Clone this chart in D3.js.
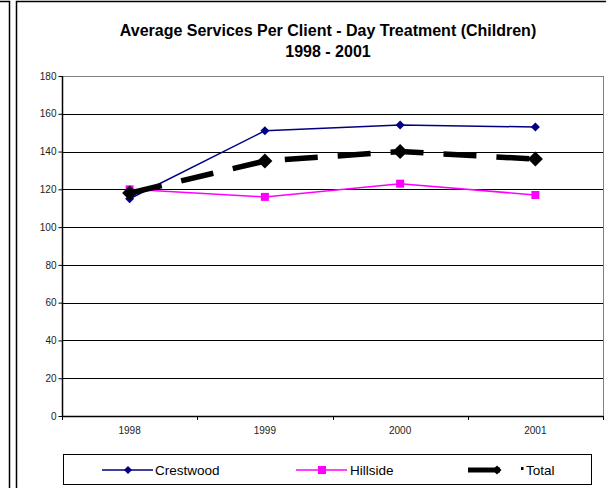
<!DOCTYPE html>
<html><head><meta charset="utf-8">
<script src="https://cdn.jsdelivr.net/npm/d3@7"></script>
<style>body{margin:0;background:#fff}svg{display:block;font-family:Arial,"Liberation Sans",sans-serif}</style>
</head><body><svg id="c" width="606" height="488"></svg>
<script>
const categories = ["1998","1999","2000","2001"];
const crestwood = [115, 151, 154, 153];
const hillside = [120, 116, 123, 117];
const total = [118, 135, 140, 136];
const yTicks = [0,20,40,60,80,100,120,140,160,180];
const seriesNames = ["Crestwood","Hillside","Total"];

const svg = d3.select("#c");
// frames
svg.append("path").attr("d","M0,1.5H9.5V488").attr("fill","none").attr("stroke","#000").attr("stroke-width",1.5);
svg.append("path").attr("d","M16.5,488V1.5H606").attr("fill","none").attr("stroke","#000").attr("stroke-width",1.5);

// title
svg.append("text").attr("x",328).attr("y",36).attr("text-anchor","middle").attr("font-size",16).attr("font-weight","bold").text("Average Services Per Client - Day Treatment (Children)");
svg.append("text").attr("x",328).attr("y",57).attr("text-anchor","middle").attr("font-size",16).attr("font-weight","bold").text("1998 - 2001");

const L=62, R=603, T=76, B=416;
const x = d3.scaleBand().domain(categories).range([L,R]);
const y = d3.scaleLinear().domain([0,180]).range([B,T]);
const cx = d => x(d)+x.bandwidth()/2;

// gridlines
svg.append("g").selectAll("line").data(yTicks.filter(v=>v>0)).join("line")
  .attr("x1",L).attr("x2",R).attr("y1",d=>Math.round(y(d))+0.5).attr("y2",d=>Math.round(y(d))+0.5)
  .attr("stroke",(d)=>d===180?"#808080":"#000").attr("stroke-width",1);
// right border
svg.append("line").attr("x1",R+0.5).attr("x2",R+0.5).attr("y1",T).attr("y2",B).attr("stroke","#808080");

// y axis
const ya = svg.append("g").attr("transform",`translate(${L+0.5},0)`)
  .call(d3.axisLeft(y).tickValues(yTicks).tickSize(4).tickPadding(2));
ya.select(".domain").attr("stroke","#000").attr("stroke-width",1.5).attr("d",`M0,${T}V${B}`);
ya.selectAll(".tick line").attr("stroke","#000");
ya.selectAll(".tick text").attr("font-size",10).attr("fill","#222").attr("font-family","Arial,'Liberation Sans',sans-serif");

// x axis
const xa = svg.append("g").attr("transform",`translate(0,${B+0.5})`)
  .call(d3.axisBottom(x).tickSize(0).tickPadding(10));
xa.select(".domain").attr("stroke","#000").attr("stroke-width",1.5).attr("d",`M${L},0H${R}`);
xa.selectAll(".tick text").attr("font-size",10).attr("fill","#222").attr("font-family","Arial,'Liberation Sans',sans-serif");
svg.append("g").selectAll("line").data(categories.concat(["end"])).join("line")
  .attr("x1",(d,i)=>Math.round(L+i*x.bandwidth())+0.5).attr("x2",(d,i)=>Math.round(L+i*x.bandwidth())+0.5)
  .attr("y1",B).attr("y2",B+4).attr("stroke","#000");

const line = d3.line().x((d,i)=>cx(categories[i])).y(d=>y(d));
const diamond = (s)=>`M0,${-s}L${s},0L0,${s}L${-s},0Z`;

// Hillside
svg.append("path").datum(hillside).attr("d",line).attr("fill","none").attr("stroke","#FF00FF").attr("stroke-width",1.5);
svg.append("g").selectAll("rect").data(hillside).join("rect")
  .attr("x",(d,i)=>cx(categories[i])-4).attr("y",d=>y(d)-4).attr("width",8).attr("height",8).attr("fill","#FF00FF");
// Crestwood
svg.append("path").datum(crestwood).attr("d",line).attr("fill","none").attr("stroke","#000080").attr("stroke-width",1.5);
svg.append("g").selectAll("path").data(crestwood).join("path")
  .attr("transform",(d,i)=>`translate(${cx(categories[i])},${y(d)})`).attr("d",diamond(4.5)).attr("fill","#000080");
// Total
svg.append("path").datum(total).attr("d",line).attr("fill","none").attr("stroke","#000").attr("stroke-width",5.5).attr("stroke-dasharray","33,20");
svg.append("g").selectAll("path").data(total).join("path")
  .attr("transform",(d,i)=>`translate(${cx(categories[i])},${y(d)})`).attr("d",diamond(7.5)).attr("fill","#000");

// legend
svg.append("rect").attr("x",63.5).attr("y",454.5).attr("width",528).attr("height",30).attr("fill","#fff").attr("stroke","#000");
const ly = 470;
const lg = svg.append("g");
const items = [
  {name:seriesNames[0], x0:102, color:"#000080", w:1.5, mk:"d", tx:155},
  {name:seriesNames[1], x0:296, color:"#FF00FF", w:1.5, mk:"s", tx:350},
  {name:seriesNames[2], x0:468, color:"#000", w:5, mk:"D", tx:526}
];
items.forEach(it=>{
  if(it.mk==="D"){
    lg.append("line").attr("x1",it.x0).attr("x2",it.x0+32).attr("y1",ly).attr("y2",ly).attr("stroke","#000").attr("stroke-width",it.w);
    lg.append("path").attr("transform",`translate(${it.x0+29},${ly})`).attr("d",diamond(4.5)).attr("fill","#000");
    lg.append("rect").attr("x",521).attr("y",ly-3).attr("width",2.5).attr("height",3).attr("fill","#000");
  } else {
    lg.append("line").attr("x1",it.x0).attr("x2",it.x0+51).attr("y1",ly).attr("y2",ly).attr("stroke",it.color).attr("stroke-width",it.w);
    if(it.mk==="d") lg.append("path").attr("transform",`translate(${it.x0+26},${ly})`).attr("d",diamond(4)).attr("fill",it.color);
    else lg.append("rect").attr("x",it.x0+22).attr("y",ly-4).attr("width",8).attr("height",8).attr("fill",it.color);
  }
  lg.append("text").attr("x",it.tx).attr("y",ly+5).attr("font-size",13.5).attr("fill","#000").text(it.name);
});
</script></body></html>
